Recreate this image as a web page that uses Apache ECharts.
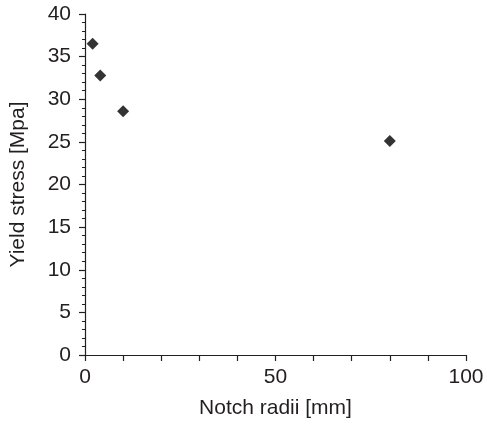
<!DOCTYPE html>
<html>
<head>
<meta charset="utf-8">
<script src="https://cdn.jsdelivr.net/npm/echarts@6/dist/echarts.min.js"></script>
<style>
  html, body { margin: 0; padding: 0; background: #fff; }
  #chart { width: 487px; height: 424px; }
</style>
</head>
<body>
<div id="chart"></div>
<script>
const notchRadii = [2, 4, 10, 80];
const yieldStress = [36.5, 32.8, 28.6, 25.1];
const xLabels = [0, 50, 100];

const chart = echarts.init(document.getElementById("chart"), null, { renderer: "canvas" });

const textColor = "#231f20";
const font = "Liberation Sans, Arial, sans-serif";

chart.setOption({
  animation: false,
  grid: { left: 84, right: 21, top: 14, bottom: 69 },
  xAxis: {
    type: "value",
    min: 0,
    max: 100,
    interval: 10,
    name: "Notch radii [mm]",
    nameLocation: "middle",
    nameGap: 43,
    nameTextStyle: { color: textColor, fontSize: 21, fontFamily: font },
    axisLine: { lineStyle: { color: textColor, width: 1.2 } },
    axisTick: { length: 6, lineStyle: { color: textColor, width: 1.2 } },
    axisLabel: {
      color: textColor,
      fontSize: 21,
      fontFamily: font,
      margin: 12,
      formatter: (v) => (xLabels.includes(v) ? String(v) : "")
    },
    splitLine: { show: false }
  },
  yAxis: {
    type: "value",
    min: 0,
    max: 40,
    interval: 5,
    name: "Yield stress [Mpa]",
    nameLocation: "middle",
    nameGap: 56,
    nameTextStyle: { color: textColor, fontSize: 21, fontFamily: font },
    axisLine: { show: true, lineStyle: { color: textColor, width: 1.2 } },
    axisTick: { length: 6, lineStyle: { color: textColor, width: 1.2 } },
    minorTick: { show: true, splitNumber: 5, length: 3, lineStyle: { color: textColor, width: 1 } },
    axisLabel: { color: textColor, fontSize: 21, fontFamily: font, margin: 14 },
    splitLine: { show: false }
  },
  series: [{
    type: "scatter",
    symbol: "diamond",
    symbolSize: 12,
    itemStyle: { color: "#000" },
    data: notchRadii.map((x, i) => [x, yieldStress[i]])
  }]
});
</script>
</body>
</html>
